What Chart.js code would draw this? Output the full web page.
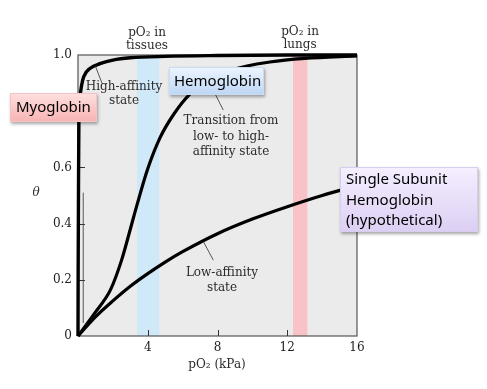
<!DOCTYPE html>
<html>
<head>
<meta charset="utf-8">
<script src="https://cdn.jsdelivr.net/npm/chart.js@4.4.1/dist/chart.umd.min.js"></script>
<style>
  html, body { margin: 0; padding: 0; background: #fff; }
</style>
</head>
<body>
<canvas id="chart" width="487" height="389"></canvas>
<script>
// oxygen binding curves (pO2 in kPa, theta 0..1)
const myoPO2 = [0, 0.01, 0.03, 0.05, 0.1, 0.2, 0.33, 0.7, 1.3, 2, 3, 5, 8, 12, 16];
const myoTheta = [0, 0.25, 0.55, 0.76, 0.84, 0.89, 0.923, 0.953, 0.97, 0.982, 0.99, 0.995, 0.998, 1.0, 1.0];

const hbPO2 = [0, 1, 1.86, 2.5, 3, 3.4, 4, 4.7, 5.5, 6.4, 7.5, 9, 11, 13, 16];
const hbTheta = [0, 0.085, 0.164, 0.27, 0.38, 0.47, 0.595, 0.705, 0.79, 0.86, 0.91, 0.95, 0.975, 0.988, 0.997];

const singlePO2 = [0, 1, 2, 3, 4, 5, 6, 8, 10, 12, 14, 16];
const singleTheta = [0, 0.068, 0.125, 0.177, 0.222, 0.263, 0.30, 0.364, 0.416, 0.46, 0.50, 0.535];

// shaded bands (tissues, lungs)
const bandFrom = [3.38, 12.33];
const bandTo = [4.66, 13.15];
const bandColors = ["#cfe9f8", "#f8c2c6"];

const xTicks = [4, 8, 12, 16];
const yTicks = [0, 0.2, 0.4, 0.6, 0.8, 1.0];

// thin pointer lines [x1, y1, x2, y2] in data units
const pointers = [
  [1.0, 0.96, 1.38, 0.899],
  [7.55, 0.9, 8.33, 0.804],
  [7.19, 0.336, 7.76, 0.27],
  [0.3, 0.51, 0.3, 0.046]
];

const toPts = (xs, ys) => xs.map((v, i) => ({ x: v, y: ys[i] }));

const serif = '"DejaVu Serif", serif';
const comic = '"Comic Sans MS", "Noto Sans", sans-serif';

function box(ctx, x, y, w, h, c1, c2, edge) {
  ctx.save();
  ctx.shadowColor = "rgba(0,0,0,0.35)";
  ctx.shadowBlur = 3;
  ctx.shadowOffsetX = 1;
  ctx.shadowOffsetY = 2;
  const g = ctx.createLinearGradient(0, y, 0, y + h);
  g.addColorStop(0, c1);
  g.addColorStop(1, c2);
  ctx.fillStyle = g;
  ctx.fillRect(x, y, w, h);
  ctx.restore();
  ctx.strokeStyle = edge;
  ctx.lineWidth = 1;
  ctx.strokeRect(x + 0.5, y + 0.5, w - 1, h - 1);
}

const decor = {
  id: "decor",
  beforeDatasetsDraw(chart) {
    const { ctx, chartArea: a, scales: { x, y } } = chart;
    ctx.save();
    ctx.fillStyle = "#ebebeb";
    ctx.fillRect(a.left, a.top, a.right - a.left, a.bottom - a.top);
    bandFrom.forEach((b, i) => {
      const x0 = x.getPixelForValue(b), x1 = x.getPixelForValue(bandTo[i]);
      ctx.fillStyle = bandColors[i];
      ctx.fillRect(x0, a.top, x1 - x0, a.bottom - a.top);
    });
    ctx.strokeStyle = "#555";
    ctx.lineWidth = 1.2;
    ctx.strokeRect(a.left, a.top, a.right - a.left, a.bottom - a.top);
    // inward ticks
    ctx.strokeStyle = "#333";
    ctx.lineWidth = 1;
    xTicks.slice(0, -1).forEach(t => {
      const px = Math.round(x.getPixelForValue(t)) + 0.5;
      ctx.beginPath(); ctx.moveTo(px, a.bottom); ctx.lineTo(px, a.bottom - 6); ctx.stroke();
    });
    yTicks.slice(1, -1).forEach(t => {
      const py = Math.round(y.getPixelForValue(t)) + 0.5;
      ctx.beginPath(); ctx.moveTo(a.left, py); ctx.lineTo(a.left + 7, py); ctx.stroke();
    });
    ctx.restore();
  },
  afterDraw(chart) {
    const { ctx, scales: { x, y } } = chart;
    ctx.save();
    // pointers
    ctx.strokeStyle = "#444";
    ctx.lineWidth = 0.9;
    pointers.forEach(p => {
      ctx.beginPath();
      ctx.moveTo(x.getPixelForValue(p[0]), y.getPixelForValue(p[1]));
      ctx.lineTo(x.getPixelForValue(p[2]), y.getPixelForValue(p[3]));
      ctx.stroke();
    });

    // serif annotations
    ctx.fillStyle = "#2b2b2b";
    ctx.textAlign = "center";
    ctx.textBaseline = "middle";
    ctx.font = "12px " + serif;
    const lines = (arr, cx, y0, step) => arr.forEach((t, i) => ctx.fillText(t, cx, y0 + i * step));
    lines(["pO\u2082 in", "tissues"], 147, 33, 12.5);
    lines(["pO\u2082 in", "lungs"], 300, 32, 12.5);
    lines(["High-affinity", "state"], 124, 87, 14);
    lines(["Transition from", "low- to high-", "affinity state"], 231, 121, 15.5);
    lines(["Low-affinity", "state"], 222, 273, 15);
    ctx.fillText("pO\u2082 (kPa)", 217, 365);
    ctx.font = "italic 12px " + serif;
    ctx.fillText("\u03b8", 36, 193);

    // callout boxes
    box(ctx, 10, 93, 87, 29, "#ffe0e0", "#f7b3b3", "#f4c4c4");
    box(ctx, 169, 67, 95, 28, "#eef5ff", "#bcd6f4", "#c9dcf2");
    box(ctx, 340, 167, 138, 65, "#f5efff", "#dccff3", "#d8ccef");
    ctx.fillStyle = "#000";
    ctx.textAlign = "left";
    ctx.font = "15px " + comic;
    ctx.fillText("Myoglobin", 16, 108);
    ctx.fillText("Hemoglobin", 174, 82);
    lines(["Single Subunit", "Hemoglobin", "(hypothetical)"], 346, 180, 20.5);
    ctx.restore();
  }
};

const line = (pts, w) => ({
  data: pts,
  showLine: true,
  borderColor: "#000",
  borderWidth: w,
  pointRadius: 0,
  cubicInterpolationMode: "monotone",
  fill: false,
  clip: 4
});

new Chart(document.getElementById("chart"), {
  type: "scatter",
  data: {
    datasets: [
      line(toPts(myoPO2, myoTheta), 3.4),
      line(toPts(hbPO2, hbTheta), 3.2),
      line(toPts(singlePO2, singleTheta), 3.2)
    ]
  },
  options: {
    responsive: false,
    animation: false,
    layout: { padding: { top: 55, right: 130, left: 0, bottom: 0 } },
    plugins: { legend: { display: false }, tooltip: { enabled: false } },
    scales: {
      x: {
        type: "linear",
        min: 0,
        max: 16,
        afterFit: s => { s.height = 53; },
        afterBuildTicks: s => { s.ticks = xTicks.map(v => ({ value: v })); },
        grid: { display: false, drawTicks: false },
        border: { display: false },
        ticks: {
          padding: 5,
          color: "#222",
          font: { family: serif, size: 12 },
          maxRotation: 0
        }
      },
      y: {
        min: 0,
        max: 1,
        afterFit: s => { s.width = 78; },
        afterBuildTicks: s => { s.ticks = yTicks.map(v => ({ value: v })); },
        grid: { display: false, drawTicks: false },
        border: { display: false },
        ticks: {
          padding: 6,
          color: "#222",
          font: { family: serif, size: 12 },
          callback: v => v === 0 ? "0" : v.toFixed(1)
        }
      }
    }
  },
  plugins: [decor]
});
</script>
</body>
</html>
